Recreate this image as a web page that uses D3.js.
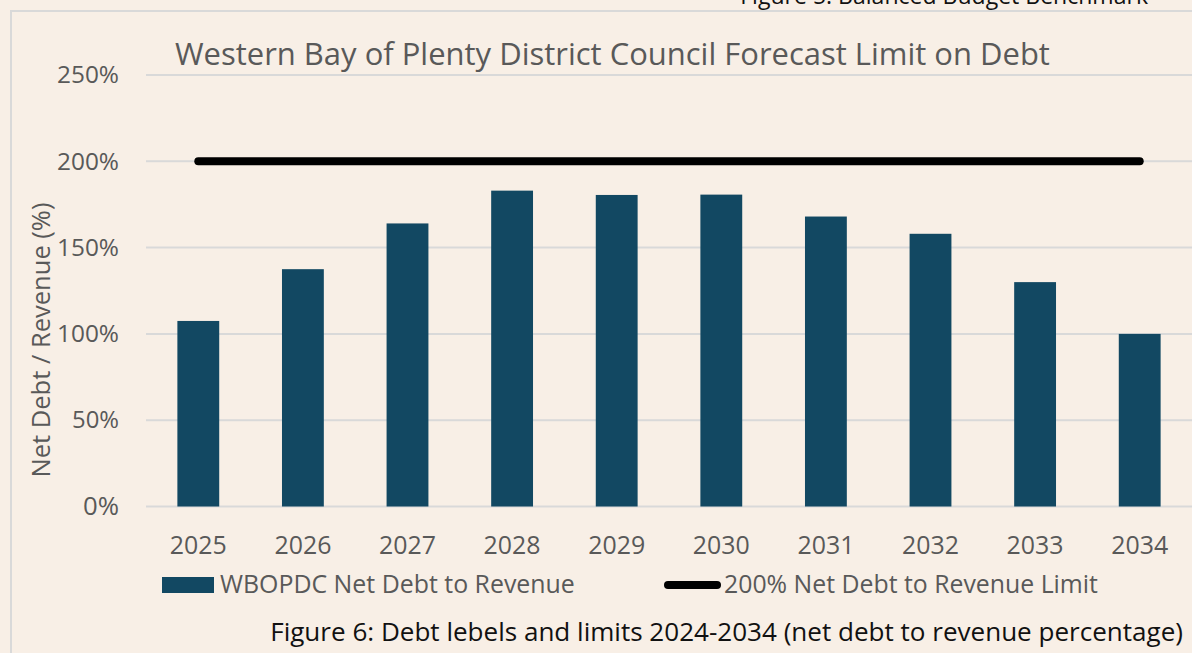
<html>
<head>
  <script src="https://cdn.jsdelivr.net/npm/d3@7"></script>
  <meta charset="UTF-8">
  <style>
  body {
    margin: 0;
    background: #f8efe6;
    font-family: "Open Sans", sans-serif;
  }
  </style>
</head>
<body>
<div id="chart"></div>
<script>

// data
const years = ['2025', '2026', '2027', '2028', '2029', '2030', '2031', '2032', '2033', '2034'];
const debtToRevenue = [107.5, 137.5, 164, 183, 180.5, 180.7, 168, 158, 130, 100];
const debtLimit = [200, 200, 200, 200, 200, 200, 200, 200, 200, 200];
const yTicks = [0, 50, 100, 150, 200, 250];

const W = 1192, H = 653;
const grey = '#595959';
const barColor = '#124862';

const svg = d3.select('#chart').append('svg')
  .attr('width', W)
  .attr('height', H);

svg.append('rect')
  .attr('width', W).attr('height', H)
  .attr('fill', '#f8efe6');

// scale a text's font so it spans the width it has in the original
function fit(sel, width) {
  sel.each(function() {
    const size = parseFloat(this.style.fontSize);
    const len = this.getComputedTextLength();
    this.style.fontSize = (size * width / len).toFixed(2) + 'px';
  });
  return sel;
}

// frame of the chart area (runs off the right and bottom)
svg.append('path')
  .attr('d', `M${W + 2},11 H11 V${H + 2}`)
  .attr('fill', 'none')
  .attr('stroke', '#d9d9d9')
  .attr('stroke-width', 2);

// cut-off caption from the figure above
svg.append('text')
  .attr('x', 1148).attr('y', 4)
  .attr('text-anchor', 'end')
  .attr('fill', '#111')
  .style('font-size', '21px')
  .text('Figure 5: Balanced Budget Benchmark')
  .call(fit, 408);

const x = d3.scaleBand()
  .domain(years)
  .range([146, 1192])
  .paddingInner(0.6)
  .paddingOuter(0.3);

const y = d3.scaleLinear()
  .domain([0, 250])
  .range([506.5, 75]);

// gridlines
svg.append('g')
  .selectAll('line')
  .data(yTicks)
  .join('line')
    .attr('x1', 146).attr('x2', W)
    .attr('y1', d => y(d)).attr('y2', d => y(d))
    .attr('stroke', '#d9d9d9')
    .attr('stroke-width', 2);

// y axis
const yAxis = svg.append('g')
  .attr('transform', 'translate(119,0)')
  .call(d3.axisLeft(y).tickValues(yTicks).tickFormat(d => d + '%').tickSize(0).tickPadding(0));
yAxis.select('.domain').remove();
yAxis.selectAll('text')
  .attr('fill', grey)
  .style('font-family', '"Open Sans", sans-serif')
  .style('font-size', '20px');
fit(yAxis.selectAll('text').filter(d => d >= 100), 62);
fit(yAxis.selectAll('text').filter(d => d < 100), 47);
yAxis.selectAll('text').filter(d => d === 0).call(fit, 36);

// x axis
const xAxis = svg.append('g')
  .attr('transform', 'translate(0,536)')
  .call(d3.axisBottom(x).tickSize(0).tickPadding(0));
xAxis.select('.domain').remove();
xAxis.selectAll('text')
  .attr('fill', grey)
  .attr('dy', '0.71em')
  .style('font-family', '"Open Sans", sans-serif')
  .style('font-size', '20px')
  .call(fit, 57);

// bars
svg.append('g')
  .selectAll('rect')
  .data(debtToRevenue)
  .join('rect')
    .attr('x', (d, i) => x(years[i]))
    .attr('y', d => y(d))
    .attr('width', x.bandwidth())
    .attr('height', d => y(0) - y(d))
    .attr('fill', barColor);

// limit line
const line = d3.line()
  .x((d, i) => x(years[i]) + x.bandwidth() / 2)
  .y(d => y(d));

svg.append('path')
  .datum(debtLimit)
  .attr('d', line)
  .attr('fill', 'none')
  .attr('stroke', '#000')
  .attr('stroke-width', 8)
  .attr('stroke-linecap', 'round');

// title
svg.append('text')
  .attr('x', 175).attr('y', 65)
  .attr('fill', grey)
  .style('font-size', '27px')
  .text('Western Bay of Plenty District Council Forecast Limit on Debt')
  .call(fit, 875);

// y axis title
svg.append('text')
  .attr('transform', 'translate(50,340) rotate(-90)')
  .attr('text-anchor', 'middle')
  .attr('fill', grey)
  .style('font-size', '21px')
  .text('Net Debt / Revenue (%)')
  .call(fit, 275);

// legend
const legend = svg.append('g');
legend.append('rect')
  .attr('x', 162).attr('y', 577)
  .attr('width', 52).attr('height', 16)
  .attr('fill', barColor);
legend.append('text')
  .attr('x', 220).attr('y', 593)
  .attr('fill', grey)
  .style('font-size', '21px')
  .text('WBOPDC Net Debt to Revenue')
  .call(fit, 355);
legend.append('line')
  .attr('x1', 668).attr('x2', 717)
  .attr('y1', 585).attr('y2', 585)
  .attr('stroke', '#000')
  .attr('stroke-width', 8)
  .attr('stroke-linecap', 'round');
legend.append('text')
  .attr('x', 724).attr('y', 593)
  .attr('fill', grey)
  .style('font-size', '21px')
  .text('200% Net Debt to Revenue Limit')
  .call(fit, 374);

// figure caption
svg.append('text')
  .attr('x', 1183).attr('y', 641)
  .attr('text-anchor', 'end')
  .attr('fill', '#111')
  .style('font-size', '22px')
  .text('Figure 6: Debt lebels and limits 2024-2034 (net debt to revenue percentage)')
  .call(fit, 913);

</script>
</body>
</html>
